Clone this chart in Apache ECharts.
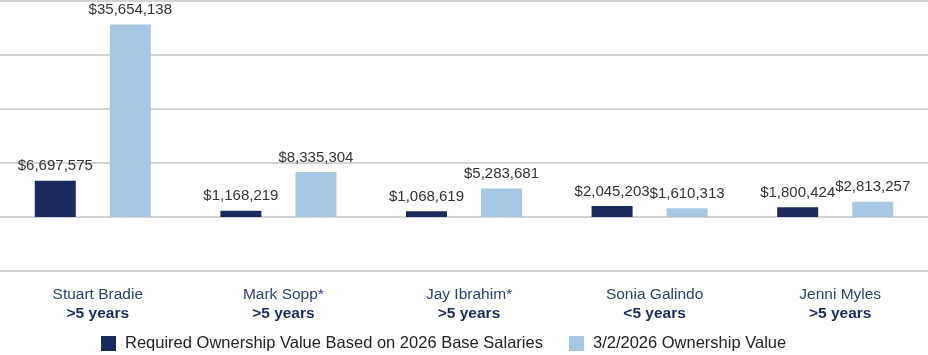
<!DOCTYPE html>
<html><head><meta charset="utf-8">
<script src="https://cdn.jsdelivr.net/npm/echarts@6/dist/echarts.min.js"></script>
<style>html,body{margin:0;padding:0;background:#fff}#c{width:928px;height:355px}</style>
</head><body><div id="c"></div>
<script>
const names = ["Stuart Bradie", "Mark Sopp*", "Jay Ibrahim*", "Sonia Galindo", "Jenni Myles"];
const tenure = [">5 years", ">5 years", ">5 years", "<5 years", ">5 years"];
const required = [6697575, 1168219, 1068619, 2045203, 1800424];
const ownership = [35654138, 8335304, 5283681, 1610313, 2813257];
const seriesNames = ["Required Ownership Value Based on 2026 Base Salaries", "3/2/2026 Ownership Value"];

const fmt = v => "$" + v.toLocaleString("en-US");
const font = "'Liberation Sans', Arial, Helvetica, sans-serif";
const chart = echarts.init(document.getElementById('c'));
chart.setOption({
  animation: false,
  textStyle: { fontFamily: font },
  grid: { left: 0, right: 0, top: 1, bottom: 84 },
  legend: {
    top: 330, left: 96, icon: 'rect', itemWidth: 15, itemHeight: 15, itemGap: 26,
    textStyle: { fontSize: 16.5, color: '#222', fontFamily: font, padding: [0, 0, 0, 4] },
    data: seriesNames
  },
  xAxis: {
    type: 'category',
    data: names.map((n, i) => "{n|" + n + "}\n{b|" + tenure[i] + "}"),
    axisLine: { show: false }, axisTick: { show: false },
    axisLabel: {
      margin: 14, fontSize: 15.5, color: '#2a3f73', lineHeight: 19, fontFamily: font,
      padding: [0, 0, 0, 10],
      rich: {
        n: { fontSize: 15.5, color: '#2a3f73', lineHeight: 19, fontFamily: font },
        b: { fontSize: 15.5, fontWeight: 'bold', color: '#1b2a5c', lineHeight: 19, fontFamily: font }
      }
    }
  },
  yAxis: {
    type: 'value', min: -10000000, max: 40000000, interval: 10000000,
    axisLabel: { show: false }, axisLine: { show: false }, axisTick: { show: false },
    splitLine: { lineStyle: { color: '#d3d3d3', width: 2 } }
  },
  series: [
    {
      name: seriesNames[0], type: 'bar', data: required, barWidth: 41, barGap: '83%',
      itemStyle: { color: '#1b2a5c' },
      label: { show: true, position: 'top', distance: 7, fontSize: 15, color: '#333', formatter: p => fmt(p.value) }
    },
    {
      name: seriesNames[1], type: 'bar', data: ownership, barWidth: 41,
      itemStyle: { color: '#a6c8e4' },
      label: { show: true, position: 'top', distance: 7, fontSize: 15, color: '#333', formatter: p => fmt(p.value) }
    }
  ]
});
</script></body></html>
